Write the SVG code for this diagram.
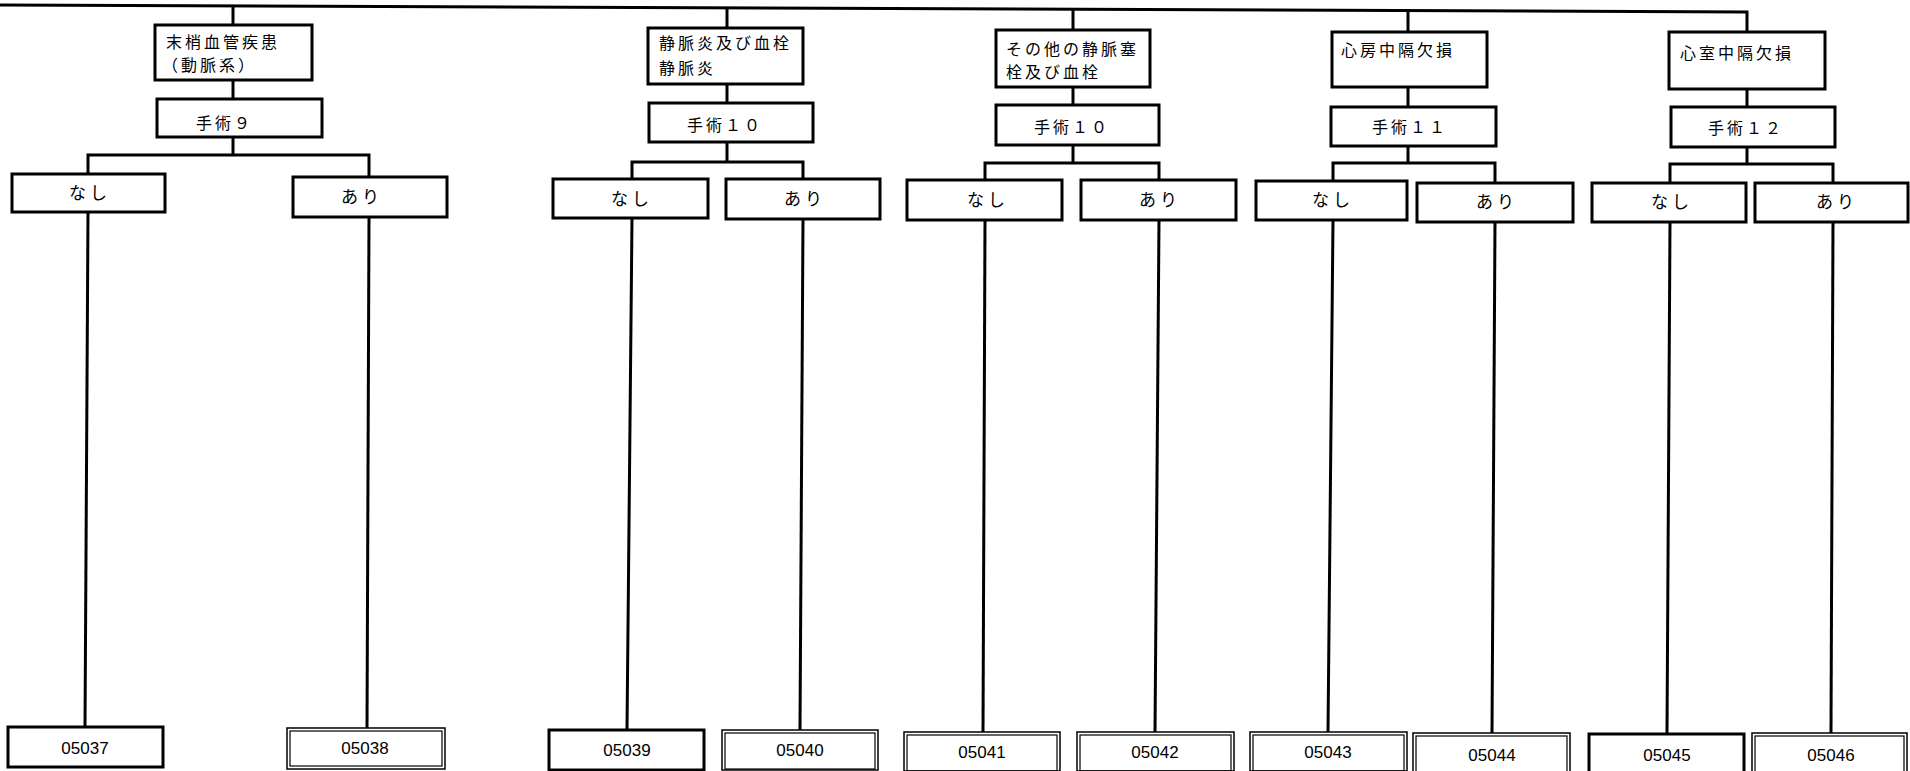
<svg xmlns="http://www.w3.org/2000/svg" width="1910" height="771" viewBox="0 0 1910 771">
<style>
.bx{fill:#fff;stroke:#000;stroke-width:3}
.dbo{fill:#fff;stroke:#000;stroke-width:1.5}
.dbi{fill:none;stroke:#000;stroke-width:1.2}
.ln{fill:none;stroke:#000;stroke-width:3}
.jp{font-family:"Noto Sans CJK JP","Noto Sans",sans-serif;font-size:16px;letter-spacing:3px;fill:#000}
.jl{font-family:"Noto Sans CJK JP","Noto Sans",sans-serif;font-size:17px;letter-spacing:4px;fill:#000}
.cd{font-family:"Liberation Sans",Arial,sans-serif;font-size:17px;fill:#000;text-anchor:middle}
</style>
<rect width="1910" height="771" fill="#fff"/>
<g id="connectors">
<polyline class="ln" points="0,5 1747,12 1747,32"/>
<line class="ln" x1="233" y1="6" x2="233" y2="25"/>
<line class="ln" x1="727" y1="8" x2="727" y2="28"/>
<line class="ln" x1="1073" y1="10" x2="1073" y2="30"/>
<line class="ln" x1="1408" y1="11" x2="1408" y2="32"/>
<line class="ln" x1="233" y1="80" x2="233" y2="99"/>
<line class="ln" x1="727" y1="84" x2="727" y2="103"/>
<line class="ln" x1="1073" y1="87" x2="1073" y2="105"/>
<line class="ln" x1="1408" y1="87" x2="1408" y2="107"/>
<line class="ln" x1="1747" y1="89" x2="1747" y2="107"/>
<line class="ln" x1="233" y1="137" x2="233" y2="155"/>
<polyline class="ln" points="88,174 88,155 369,155 369,177"/>
<line class="ln" x1="727" y1="142" x2="727" y2="162"/>
<polyline class="ln" points="632,179 632,162 803,162 803,179"/>
<line class="ln" x1="1073" y1="145" x2="1073" y2="163"/>
<polyline class="ln" points="985,180 985,163 1159,163 1159,180"/>
<line class="ln" x1="1408" y1="146" x2="1408" y2="163"/>
<polyline class="ln" points="1333,181 1333,163 1495,163 1495,183"/>
<line class="ln" x1="1747" y1="147" x2="1747" y2="164"/>
<polyline class="ln" points="1670,183 1670,164 1833,164 1833,183"/>
<line class="ln" x1="88" y1="212" x2="85" y2="727"/>
<line class="ln" x1="369" y1="217" x2="367" y2="728"/>
<line class="ln" x1="632" y1="218" x2="627" y2="730"/>
<line class="ln" x1="803" y1="219" x2="800" y2="730"/>
<line class="ln" x1="985" y1="220" x2="983" y2="732"/>
<line class="ln" x1="1159" y1="220" x2="1155" y2="732"/>
<line class="ln" x1="1333" y1="220" x2="1328" y2="732"/>
<line class="ln" x1="1495" y1="222" x2="1492" y2="733"/>
<line class="ln" x1="1670" y1="222" x2="1667" y2="733"/>
<line class="ln" x1="1833" y1="222" x2="1831" y2="733"/>
</g>
<g id="n1"><rect class="bx" x="155" y="25" width="157" height="55"/><text class="jp" x="166" y="48">末梢血管疾患</text><text class="jp" x="162" y="71">（動脈系）</text></g>
<g id="n2"><rect class="bx" x="648" y="28" width="155" height="56"/><text class="jp" x="659" y="49">静脈炎及び血栓</text><text class="jp" x="659" y="74">静脈炎</text></g>
<g id="n3"><rect class="bx" x="996" y="30" width="154" height="57"/><text class="jp" x="1006" y="55">その他の静脈塞</text><text class="jp" x="1006" y="78">栓及び血栓</text></g>
<g id="n4"><rect class="bx" x="1332" y="32" width="155" height="55"/><text class="jp" x="1341" y="56">心房中隔欠損</text></g>
<g id="n5"><rect class="bx" x="1669" y="32" width="156" height="57"/><text class="jp" x="1680" y="59">心室中隔欠損</text></g>
<g id="p1"><rect class="bx" x="157" y="99" width="165" height="38"/><text class="jp" x="196" y="129">手術９</text></g>
<g id="p2"><rect class="bx" x="649" y="103" width="164" height="39"/><text class="jp" x="687" y="131">手術１０</text></g>
<g id="p3"><rect class="bx" x="996" y="105" width="163" height="40"/><text class="jp" x="1034" y="133">手術１０</text></g>
<g id="p4"><rect class="bx" x="1331" y="107" width="165" height="39"/><text class="jp" x="1372" y="133">手術１１</text></g>
<g id="p5"><rect class="bx" x="1671" y="107" width="164" height="40"/><text class="jp" x="1708" y="134">手術１２</text></g>
<g id="g1-no"><rect class="bx" x="12" y="174" width="153" height="38"/><text class="jl" x="69" y="199">なし</text></g>
<g id="g1-yes"><rect class="bx" x="293" y="177" width="154" height="40"/><text class="jl" x="341" y="203">あり</text></g>
<g id="g2-no"><rect class="bx" x="553" y="179" width="155" height="39"/><text class="jl" x="611" y="205">なし</text></g>
<g id="g2-yes"><rect class="bx" x="726" y="179" width="154" height="40"/><text class="jl" x="784" y="205">あり</text></g>
<g id="g3-no"><rect class="bx" x="907" y="180" width="155" height="40"/><text class="jl" x="967" y="206">なし</text></g>
<g id="g3-yes"><rect class="bx" x="1081" y="180" width="155" height="40"/><text class="jl" x="1139" y="206">あり</text></g>
<g id="g4-no"><rect class="bx" x="1256" y="181" width="151" height="39"/><text class="jl" x="1312" y="206">なし</text></g>
<g id="g4-yes"><rect class="bx" x="1417" y="183" width="156" height="39"/><text class="jl" x="1476" y="208">あり</text></g>
<g id="g5-no"><rect class="bx" x="1592" y="183" width="154" height="39"/><text class="jl" x="1651" y="208">なし</text></g>
<g id="g5-yes"><rect class="bx" x="1755" y="183" width="153" height="39"/><text class="jl" x="1816" y="208">あり</text></g>
<g id="c05037"><rect class="bx" x="8" y="727" width="155" height="40"/><text class="cd" x="85" y="754">05037</text></g>
<g id="c05038"><rect class="dbo" x="287" y="728" width="158" height="41"/><rect class="dbi" x="290" y="731" width="152" height="35"/><text class="cd" x="365" y="754">05038</text></g>
<g id="c05039"><rect class="bx" x="549" y="730" width="155" height="40"/><text class="cd" x="627" y="756">05039</text></g>
<g id="c05040"><rect class="dbo" x="722" y="730" width="156" height="40"/><rect class="dbi" x="725" y="733" width="150" height="36"/><text class="cd" x="800" y="756">05040</text></g>
<g id="c05041"><rect class="dbo" x="904" y="732" width="156" height="39"/><rect class="dbi" x="907" y="735" width="150" height="36"/><text class="cd" x="982" y="758">05041</text></g>
<g id="c05042"><rect class="dbo" x="1077" y="732" width="157" height="39"/><rect class="dbi" x="1080" y="735" width="151" height="36"/><text class="cd" x="1155" y="758">05042</text></g>
<g id="c05043"><rect class="dbo" x="1250" y="732" width="157" height="39"/><rect class="dbi" x="1253" y="735" width="151" height="36"/><text class="cd" x="1328" y="758">05043</text></g>
<g id="c05044"><rect class="dbo" x="1413" y="733" width="157" height="39"/><rect class="dbi" x="1416" y="736" width="151" height="36"/><text class="cd" x="1492" y="761">05044</text></g>
<g id="c05045"><rect class="bx" x="1589" y="734" width="155" height="40"/><text class="cd" x="1667" y="761">05045</text></g>
<g id="c05046"><rect class="dbo" x="1752" y="733" width="155" height="40"/><rect class="dbi" x="1755" y="736" width="149" height="36"/><text class="cd" x="1831" y="761">05046</text></g>
</svg>
